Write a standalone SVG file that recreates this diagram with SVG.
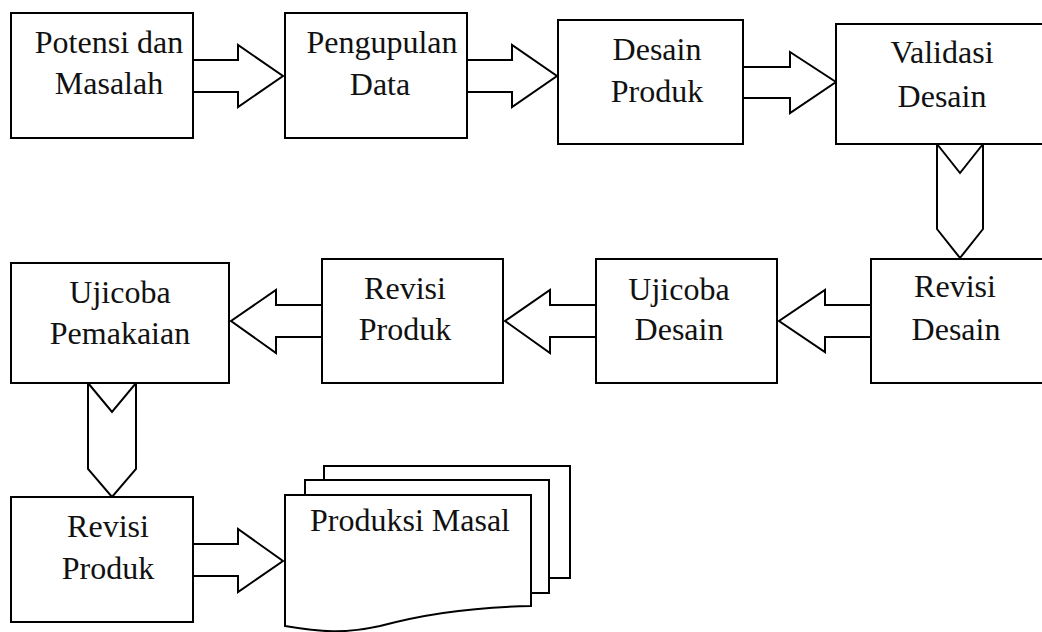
<svg xmlns="http://www.w3.org/2000/svg" width="1042" height="632" viewBox="0 0 1042 632">
<style>
.box{fill:#fff;stroke:#000;stroke-width:2}
.arr{fill:#fff;stroke:#000;stroke-width:2;stroke-linejoin:miter}
.t{font-family:'Liberation Serif','Times New Roman',serif;font-size:32px;fill:#111;text-anchor:middle}
</style>
<rect width="1042" height="632" fill="#fff"/>
<g id="connectors">
<polygon class="arr" points="193,60 238,60 238,45 283,76 238,107 238,92 193,92"/>
<polygon class="arr" points="467,60 512,60 512,45 557,76 512,107 512,92 467,92"/>
<polygon class="arr" points="743,67 790,67 790,52 836,82 790,113 790,98 743,98"/>
<polygon class="arr" points="937,144 960,173 983,144 983,229 960,258 937,229"/>
<polygon class="arr" points="871,305 825,305 825,290 779,321 825,352 825,337 871,337"/>
<polygon class="arr" points="596,305 550,305 550,290 505,321 550,353 550,337 596,337"/>
<polygon class="arr" points="322,305 276,305 276,290 231,321 276,353 276,337 322,337"/>
<polygon class="arr" points="88,383 112,412 136,383 136,469 112,497 88,469"/>
<polygon class="arr" points="193,544 238,544 238,529 283,561 238,592 238,576 193,576"/>
</g>
<g id="n1"><rect class="box" x="11" y="13" width="182" height="125"/><text class="t" x="109" y="53">Potensi dan</text><text class="t" x="109" y="94">Masalah</text></g>
<g id="n2"><rect class="box" x="285" y="13" width="182" height="125"/><text class="t" x="382" y="53">Pengupulan</text><text class="t" x="380" y="95">Data</text></g>
<g id="n3"><rect class="box" x="558" y="20" width="185" height="124"/><text class="t" x="657" y="60">Desain</text><text class="t" x="657" y="102">Produk</text></g>
<g id="n4"><rect class="box" x="836" y="24" width="220" height="120"/><text class="t" x="942" y="63">Validasi</text><text class="t" x="942" y="107">Desain</text></g>
<g id="n5"><rect class="box" x="871" y="259" width="185" height="124"/><text class="t" x="955" y="297">Revisi</text><text class="t" x="956" y="340">Desain</text></g>
<g id="n6"><rect class="box" x="596" y="259" width="181" height="124"/><text class="t" x="679" y="300">Ujicoba</text><text class="t" x="679" y="340">Desain</text></g>
<g id="n7"><rect class="box" x="322" y="259" width="181" height="124"/><text class="t" x="405" y="299">Revisi</text><text class="t" x="405" y="340">Produk</text></g>
<g id="n8"><rect class="box" x="11" y="263" width="218" height="120"/><text class="t" x="120" y="303">Ujicoba</text><text class="t" x="120" y="344">Pemakaian</text></g>
<g id="n9"><rect class="box" x="11" y="497" width="182" height="125"/><text class="t" x="108" y="537">Revisi</text><text class="t" x="108" y="579">Produk</text></g>
<g id="n10">
<rect class="box" x="324" y="466" width="246" height="112"/>
<rect class="box" x="305" y="480" width="244" height="113"/>
<path class="box" d="M285,495 L531,495 L531,606 C470,607 420,615 380,626 C345,634 320,632 285,626 Z"/>
<text class="t" x="410" y="531">Produksi Masal</text>
</g>
</svg>
